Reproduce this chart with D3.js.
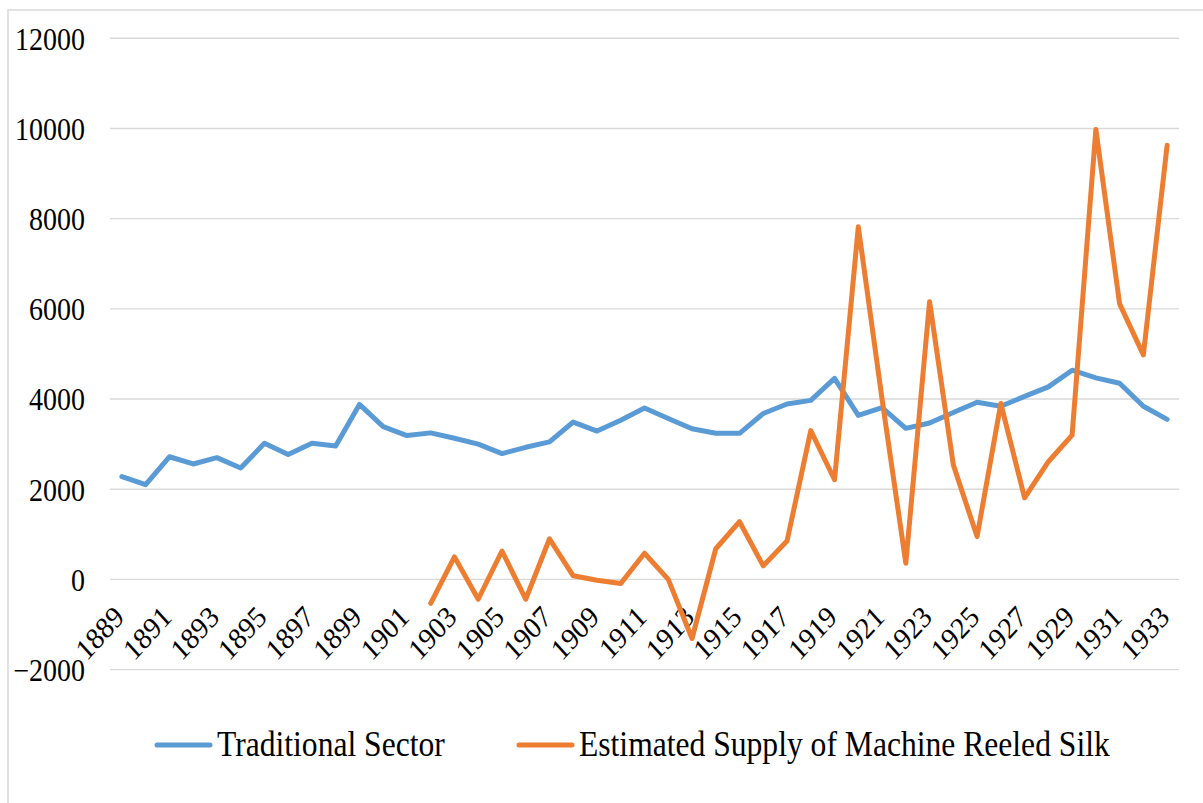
<!DOCTYPE html>
<html>
<head>
<meta charset="utf-8">
<script src="https://cdn.jsdelivr.net/npm/d3@7"></script>
<style>
  html, body { margin: 0; padding: 0; background: #fff; }
  svg { display: block; }
  text { font-family: "Liberation Serif", "Times New Roman", serif; fill: #000; }
</style>
</head>
<body>
<svg id="chart" width="1203" height="803"></svg>
<script>
const years = d3.range(1889, 1934);
const traditional = [2280, 2100, 2720, 2560, 2700, 2470, 3020, 2770, 3020, 2960, 3880, 3390,
  3190, 3250, 3130, 3000, 2790, 2930, 3050, 3490, 3290, 3530, 3800, 3570, 3340, 3240, 3240,
  3680, 3890, 3970, 4460, 3640, 3810, 3350, 3470, 3700, 3930, 3840, 4060, 4270, 4640, 4470,
  4350, 3840, 3550];
const machine = [null, null, null, null, null, null, null, null, null, null, null, null, null,
  -530, 500, -440, 630, -440, 900, 80, -20, -90, 580, 0, -1310, 680, 1280, 300, 850, 3300,
  2210, 7820, 4000, 360, 6160, 2540, 950, 3900, 1810, 2610, 3200, 9980, 6110, 4980, 9630];
const yTicks = [-2000, 0, 2000, 4000, 6000, 8000, 10000, 12000];
const xTickYears = years.filter((d, i) => i % 2 === 0);
const seriesNames = ["Traditional Sector", "Estimated Supply of Machine Reeled Silk"];
const colors = ["#5B9BD5", "#ED7D31"];

const svg = d3.select("#chart");

// outer chart border
svg.append("rect").attr("x", 8).attr("y", 10).attr("width", 1300).attr("height", 900)
  .attr("fill", "none").attr("stroke", "#d9d9d9").attr("stroke-width", 1.5);

const x = d3.scaleBand().domain(years).range([110, 1179]).paddingInner(0).paddingOuter(0);
const y = d3.scaleLinear().domain([-2000, 12000]).range([669.6, 38.3]);
const cx = d => x(d) + x.bandwidth() / 2;

// gridlines
svg.append("g").selectAll("line").data(yTicks).join("line")
  .attr("x1", 110).attr("x2", 1179)
  .attr("y1", d => y(d)).attr("y2", d => y(d))
  .attr("stroke", "#d9d9d9").attr("stroke-width", 1.4);

// y axis
const yAxis = svg.append("g").attr("transform", "translate(85,0)")
  .call(d3.axisLeft(y).tickValues(yTicks).tickSize(0).tickPadding(0).tickFormat(d3.format("d")));
yAxis.select(".domain").remove();
yAxis.selectAll("text")
  .attr("font-family", "Liberation Serif").attr("font-size", 28).attr("fill", "#000")
  .attr("dy", "0.35em").attr("transform", "scale(1,1.1)");

// x axis labels
const xAxis = svg.append("g").attr("transform", `translate(0,${y(0)})`)
  .call(d3.axisBottom(x).tickValues(xTickYears).tickSize(0).tickPadding(0));
xAxis.select(".domain").remove();
xAxis.selectAll(".tick text")
  .attr("font-family", "Liberation Serif").attr("font-size", 27.5).attr("fill", "#000")
  .attr("text-anchor", "end")
  .attr("x", 0).attr("y", 0).attr("dy", "0.35em")
  .attr("transform", "translate(-3,32) scale(1,1.1) rotate(-45)");

// lines
const line = d3.line().defined(d => d[1] !== null).x(d => cx(d[0])).y(d => y(d[1]));
[traditional, machine].forEach((vals, i) => {
  svg.append("path")
    .datum(years.map((yr, j) => [yr, vals[j]]))
    .attr("d", line)
    .attr("fill", "none").attr("stroke", colors[i]).attr("stroke-width", 5)
    .attr("stroke-linejoin", "round").attr("stroke-linecap", "round");
});

// legend
const legendX = [157, 519];
const legend = svg.append("g");
seriesNames.forEach((name, i) => {
  legend.append("line").attr("x1", legendX[i]).attr("x2", legendX[i] + 53)
    .attr("y1", 745).attr("y2", 745)
    .attr("stroke", colors[i]).attr("stroke-width", 5).attr("stroke-linecap", "round");
  legend.append("text")
    .attr("transform", `translate(${legendX[i] + 60},756) scale(1,1.1)`)
    .attr("font-size", 31.6).attr("font-family", "Liberation Serif")
    .text(name);
});
</script>
</body>
</html>
